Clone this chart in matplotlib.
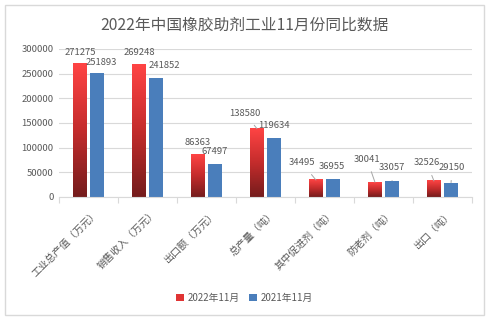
import numpy as np
import matplotlib.pyplot as plt
import matplotlib.transforms as mtransforms
from matplotlib.patches import Rectangle, Patch
from matplotlib.colors import LinearSegmentedColormap

plt.rcParams['font.family'] = ['Noto Sans CJK SC', 'DejaVu Sans']

title = "2022年中国橡胶助剂工业11月份同比数据"
categories = ["工业总产值（万元）", "销售收入（万元）", "出口额（万元）", "总产量（吨）",
              "其中促进剂（吨）", "防老剂（吨）", "出口（吨）"]
vals_2022 = [271275, 269248, 86363, 138580, 34495, 30041, 32526]
vals_2021 = [251893, 241852, 67497, 119634, 36955, 33057, 29150]
series_names = ["2022年11月", "2021年11月"]

# label offsets in pixels (dx, dy) from bar top, and whether a leader line is drawn
off_2022 = [(0, 11), (0, 12), (0, 12), (-12, 15), (-14, 17), (-8, 23), (-7, 18)]
lead_2022 = [False, False, False, True, True, True, True]
off_2021 = [(4, 10), (8, 12), (0, 12), (0, 12), (-1, 12), (0, 13), (1, 15)]
lead_2021 = [False, False, False, False, False, True, True]

TXT = "#595959"
BLUE = "#4A7EBB"
red_cmap = LinearSegmentedColormap.from_list("redgrad", ["#741C1C", "#C42C2C", "#FF4444"])

fig = plt.figure(figsize=(4.99, 3.24), dpi=100)
fig.patch.set_facecolor("white")
fig.add_artist(Rectangle((5 / 499, 1 - 315 / 324), 479 / 499, 310 / 324,
                         transform=fig.transFigure, fill=False, edgecolor="#D9D9D9", lw=1))
ax = fig.add_axes([59 / 499, 1 - 197 / 324, 413 / 499, 148 / 324])

x = np.arange(len(categories))
w, off = 0.225, 0.145
grad = np.linspace(0, 1, 256).reshape(-1, 1)

bars_red = ax.bar(x - off, vals_2022, w, color="#E03434", zorder=2, label=series_names[0])
for b in bars_red:
    x0, y1 = b.get_x(), b.get_height()
    ax.imshow(grad, cmap=red_cmap, origin="lower", aspect="auto",
              extent=[x0, x0 + b.get_width(), 0, y1], zorder=2.5)
bars_blue = ax.bar(x + off, vals_2021, w, color=BLUE, zorder=2, label=series_names[1])

def label(bars, vals, offs, leads):
    for b, v, (dx, dy), ld in zip(bars, vals, offs, leads):
        xc = b.get_x() + b.get_width() / 2
        ap = dict(arrowstyle="-", color="#A6A6A6", lw=0.7, shrinkA=4, shrinkB=0) if ld else None
        ax.annotate(str(v), (xc, v), xytext=(dx, dy), textcoords="offset pixels",
                    ha="center", va="center", fontsize=6.8, color=TXT, arrowprops=ap, zorder=4)

label(bars_red, vals_2022, off_2022, lead_2022)
label(bars_blue, vals_2021, off_2021, lead_2021)

ax.set_xlim(-0.5, len(categories) - 0.5)
ax.set_ylim(0, 300000)
ax.set_yticks(np.arange(0, 300001, 50000))
ax.yaxis.grid(True, color="#D9D9D9", lw=0.8, zorder=0)
ax.set_axisbelow(True)
for s in ["top", "right", "left"]:
    ax.spines[s].set_visible(False)
ax.spines["bottom"].set_color("#D9D9D9")
ax.tick_params(axis="y", length=0, labelsize=6.8, labelcolor=TXT, pad=4)

ax.set_xticks(np.arange(-0.5, len(categories)))
ax.set_xticklabels([])
ax.tick_params(axis="x", which="major", length=4, color="#D9D9D9", direction="out")
ax.set_xticks(x, minor=True)
ax.set_xticklabels(categories, minor=True, rotation=45, ha="right", va="top",
                   rotation_mode="anchor", fontsize=7.2, color=TXT)
ax.tick_params(axis="x", which="minor", length=0, pad=8)
shift = mtransforms.ScaledTranslation(5 / 100, 0, fig.dpi_scale_trans)
for t in ax.get_xticklabels(minor=True):
    t.set_transform(t.get_transform() + shift)

fig.text(0.49, 1 - 25 / 324, title, ha="center", va="center", fontsize=11.3, color="#595959")

handles = [Patch(facecolor="#E03434"), Patch(facecolor=BLUE)]
fig.legend(handles, series_names, loc="center", bbox_to_anchor=(0.49, 1 - 298 / 324),
           ncol=2, frameon=False, fontsize=7, handlelength=0.8, handleheight=0.8,
           handletextpad=0.4, columnspacing=1.0, labelcolor=TXT)

fig.savefig("out.png", dpi=100)
